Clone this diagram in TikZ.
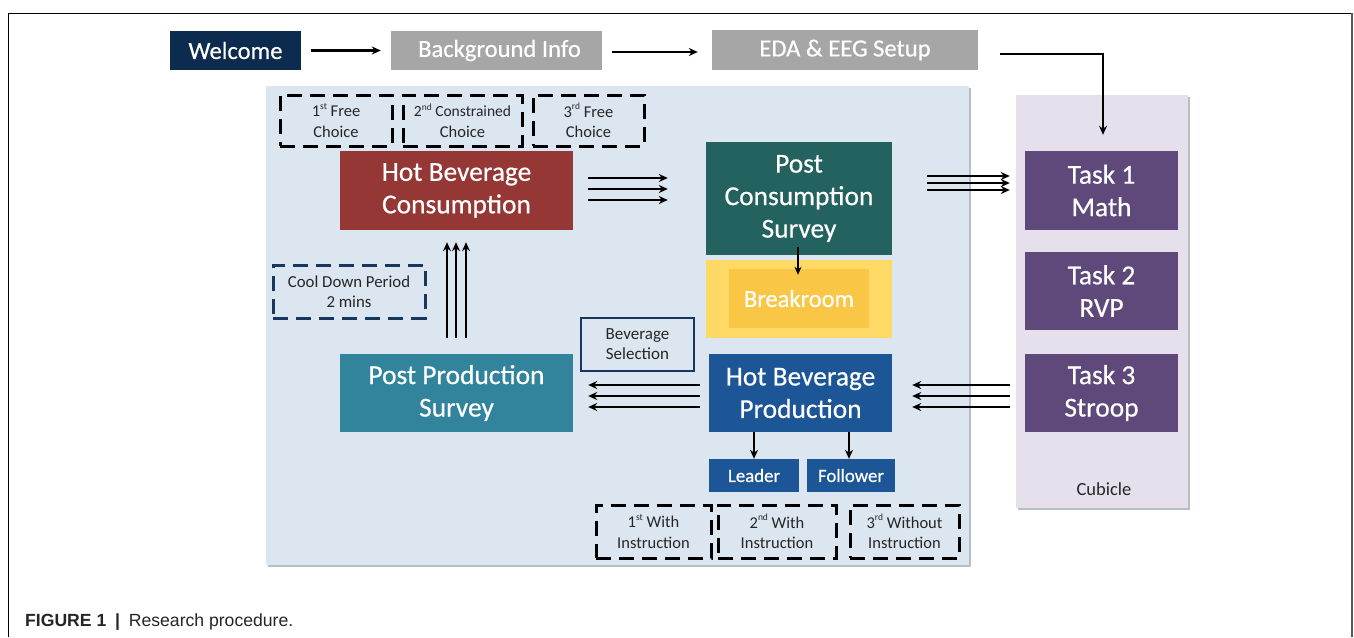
\documentclass[tikz,border=0pt]{standalone}
\usepackage{fontspec}
\setmainfont{Carlito}
\newfontfamily\heavy{Carlito}[FakeBold=0.5]
\newfontfamily\capfont{Liberation Sans}
\usetikzlibrary{calc,arrows.meta}
\definecolor{cnavy}{HTML}{0D2A4F}
\definecolor{cgray}{HTML}{A6A6A6}
\definecolor{cpanel}{HTML}{DCE6F1}
\definecolor{ccub}{HTML}{E5E0EC}
\definecolor{chbc}{HTML}{953735}
\definecolor{cpcs}{HTML}{23625F}
\definecolor{cbrko}{HTML}{FFD966}
\definecolor{cbrki}{HTML}{F9C646}
\definecolor{ctask}{HTML}{5F497A}
\definecolor{chbp}{HTML}{1D5696}
\definecolor{cpps}{HTML}{31849B}
\definecolor{cbord}{HTML}{17375E}
\definecolor{cshadow}{HTML}{B8BEC6}
\newcommand{\sups}[1]{\raisebox{0.45em}{\fontsize{9.5}{10}\selectfont #1}}
\begin{document}
\begin{tikzpicture}[x=1pt,y=-1pt,
  box/.style={draw=none,inner sep=0pt,align=center,text=white},
  bigtxt/.style={font=\heavy\fontsize{27.4}{32.5}\selectfont},
  toptxt/.style={font=\heavy\fontsize{24.6}{28}\selectfont},
  smalltxt/.style={font=\fontsize{17}{20}\selectfont,text=black!85},
  dbox/.style={draw=black,line width=3pt,dash pattern=on 15pt off 8pt,inner sep=0pt,align=center,font=\fontsize{16.5}{20.5}\selectfont,text=black!85},
  arr/.style={line width=2.3pt,-{Stealth[length=9pt,width=8pt]}},
]
\useasboundingbox (0,0) rectangle (1354,637);
\fill[white] (0,0) rectangle (1354,637);
% frame
\draw[line width=1pt,black] (8,637) -- (8,13) -- (1352,13);
\draw[line width=1.5pt,black!65] (1352,13) -- (1352,637);

% panels
\fill[cshadow] (268,88) rectangle (971,567);
\fill[cpanel] (266,86) rectangle (969,565);
\fill[cshadow] (1018,97) rectangle (1190,510);
\fill[ccub] (1016,95) rectangle (1188,508);
\node[font=\fontsize{18.5}{20}\selectfont,text=black!85] (cublabel) at (1104,489) {Cubicle};

% top row
\node[box,fill=cnavy,toptxt,minimum width=131,minimum height=39] (welcome) at (235.5,50.5) {Welcome};
\node[box,fill=cgray,toptxt,minimum width=211,minimum height=39] (bginfo) at (496.5,50.5) {\hspace*{6pt}Background Info};
\node[box,fill=cgray,toptxt,minimum width=266,minimum height=40] (eda) at (845,50) {EDA \& EEG Setup};

% dashed choice boxes
\node[dbox,minimum width=112,minimum height=51] (fc1) at (336,120.5) {1\sups{st} Free\\Choice};
\node[dbox,minimum width=119,minimum height=51] (fc2) at (462.5,120.5) {\fontsize{15.5}{20.5}\selectfont 2\sups{nd} Constrained\\Choice};
\node[dbox,minimum width=111,minimum height=51] (fc3) at (588.5,120.5) {3\sups{rd} Free\\Choice};

% main boxes
\node[box,fill=chbc,bigtxt,minimum width=233,minimum height=79] (hbc) at (456.5,190.5) {Hot Beverage\\Consumption};
\node[box,fill=cpcs,bigtxt,minimum width=186,minimum height=113] (pcs) at (799,198.5) {Post\\Consumption\\Survey};
\node[box,fill=cbrko,minimum width=186,minimum height=78] (brko) at (799,299) {};
\node[box,fill=cbrki,font=\heavy\fontsize{24.5}{26}\selectfont,minimum width=140,minimum height=59] (brki) at (799,298.5) {Breakroom};

\node[box,fill=ctask,bigtxt,minimum width=153,minimum height=79] (task1) at (1101.5,190.5) {Task 1\\Math};
\node[box,fill=ctask,bigtxt,minimum width=153,minimum height=78] (task2) at (1101.5,291) {Task 2\\RVP};
\node[box,fill=ctask,bigtxt,minimum width=153,minimum height=78] (task3) at (1101.5,393) {Task 3\\Stroop};

\node[box,fill=chbp,bigtxt,minimum width=183,minimum height=78] (hbp) at (800.5,393) {Hot Beverage\\Production};
\node[box,fill=cpps,bigtxt,minimum width=233,minimum height=78] (pps) at (456.5,393) {Post Production\\Survey};

\node[draw=cbord,line width=2.2pt,inner sep=0pt,align=center,smalltxt,minimum width=113,minimum height=53] (bevsel) at (637.5,344.5) {Beverage\\Selection};
\node[dbox,draw=cbord,font=\fontsize{16.8}{20.5}\selectfont,minimum width=152,minimum height=53] (cool) at (349,291.5) {Cool Down Period\\2 mins};

\node[box,fill=chbp,font=\heavy\fontsize{18.8}{20}\selectfont,minimum width=90,minimum height=33] (leader) at (754,475.5) {Leader};
\node[box,fill=chbp,font=\heavy\fontsize{18.8}{20}\selectfont,minimum width=88,minimum height=33] (follower) at (851,475.5) {Follower};

\node[dbox,minimum width=115,minimum height=53] (wi1) at (653.5,531.5) {1\sups{st} With\\Instruction};
\node[dbox,minimum width=118,minimum height=53] (wi2) at (777,531.5) {2\sups{nd} With\\Instruction};
\node[dbox,minimum width=109,minimum height=53] (wi3) at (904.5,531.5) {3\sups{rd} Without\\Instruction};

% arrows
\draw[arr] ($(welcome.east)+(10,0)$) -- ($(bginfo.west)+(-10,0)$);
\draw[arr] ($(bginfo.east)+(10,1.5)$) -- ($(eda.west)+(-14,2)$);
\draw[arr] ($(eda.east)+(22,4)$) -| ($(task1.north)+(1.5,-16)$);

\foreach \dy in {-12.5,-1.5,9.5}
  \draw[arr] ($(hbc.east)+(15,\dy)$) -- ($(hbc.east -| pcs.west)+(-38,\dy)$);
\foreach \dy in {-14.5,-7.5,-0.5}
  \draw[arr] ($(task1.west -| pcs.east)+(35,\dy)$) -- ($(task1.west)+(-15,\dy)$);
\foreach \dy in {-8,3,14}{
  \draw[arr] ($(task3.west)+(-15,\dy)$) -- ($(task3.west -| hbp.east)+(20,\dy)$);
  \draw[arr] ($(hbp.west)+(-9,\dy)$) -- ($(hbp.west -| pps.east)+(15,\dy)$);
}
\foreach \dx in {-9.5,-0.5,9.5}
  \draw[arr] ($(pps.north)+(\dx,-16)$) -- ($(hbc.south)+(\dx,12)$);

\draw[line width=1.8pt,-{Stealth[length=8pt,width=7pt]}] ($(pcs.south)+(-1,-8)$) -- ($(brki.north)+(-1,6)$);
\draw[arr] (hbp.south -| leader.north) -- (leader.north);
\draw[arr] ($(hbp.south -| follower.north)+(-2,0)$) -- ($(follower.north)+(-2,0)$);

% caption
\node[anchor=base west,inner sep=0pt,font=\capfont\fontsize{17.6}{20}\selectfont,text=black!85] (caption) at (25,626) {\textbf{FIGURE 1}\enspace\textbf{|}\enspace Research procedure.};
\end{tikzpicture}
\end{document}
